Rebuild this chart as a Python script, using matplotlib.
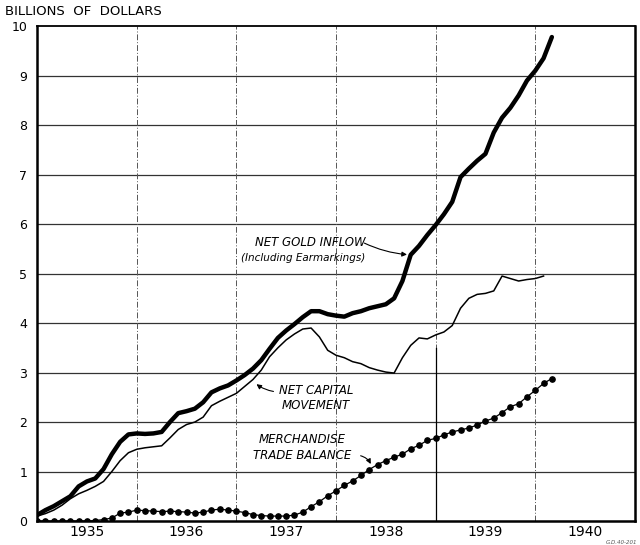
import numpy as np
import matplotlib
matplotlib.use("Agg")
from matplotlib import pyplot as plt

# monthly values, billions of dollars, starting January 1935
start_year = 1935
gold_inflow = [0.12, 0.22, 0.30, 0.40, 0.50, 0.70, 0.80, 0.86, 1.05, 1.35, 1.60, 1.75,
               1.77, 1.76, 1.77, 1.80, 2.00, 2.18, 2.22, 2.27, 2.40, 2.60, 2.68, 2.74,
               2.84, 2.95, 3.08, 3.25, 3.48, 3.70, 3.85, 3.98, 4.12, 4.24, 4.24, 4.18,
               4.15, 4.13, 4.20, 4.24, 4.30, 4.34, 4.38, 4.50, 4.85, 5.38, 5.56, 5.78,
               5.98, 6.20, 6.45, 6.95, 7.12, 7.28, 7.42, 7.85, 8.15, 8.35, 8.60, 8.90,
               9.10, 9.35, 9.78]
capital_movement = [0.10, 0.15, 0.22, 0.32, 0.45, 0.55, 0.62, 0.70, 0.80, 1.00, 1.22, 1.38,
                    1.45, 1.48, 1.50, 1.52, 1.68, 1.85, 1.95, 2.00, 2.10, 2.33, 2.42, 2.50,
                    2.58, 2.72, 2.86, 3.05, 3.32, 3.50, 3.66, 3.78, 3.88, 3.90, 3.72, 3.45,
                    3.35, 3.30, 3.22, 3.18, 3.10, 3.05, 3.01, 2.99, 3.30, 3.55, 3.70, 3.68,
                    3.76, 3.82, 3.95, 4.30, 4.50, 4.58, 4.60, 4.65, 4.95, 4.90, 4.85, 4.88,
                    4.90, 4.95]
trade_balance = [0.0, 0.0, 0.0, 0.0, 0.0, 0.0, 0.0, 0.01, 0.03, 0.06, 0.16, 0.18,
                 0.22, 0.21, 0.20, 0.19, 0.20, 0.19, 0.18, 0.16, 0.18, 0.22, 0.24, 0.22,
                 0.20, 0.17, 0.13, 0.11, 0.10, 0.10, 0.10, 0.12, 0.18, 0.29, 0.39, 0.51,
                 0.61, 0.72, 0.81, 0.92, 1.04, 1.14, 1.22, 1.29, 1.35, 1.46, 1.53, 1.63,
                 1.67, 1.74, 1.80, 1.84, 1.88, 1.94, 2.02, 2.08, 2.19, 2.31, 2.37, 2.51,
                 2.64, 2.78, 2.88]
year_labels = ['1935', '1936', '1937', '1938', '1939', '1940']
y_ticks = list(range(0, 11))


def months(series):
    return start_year + np.arange(len(series)) / 12.0


fig = plt.figure(figsize=(6.4, 5.45), dpi=100)
ax = fig.add_axes([0.058, 0.044, 0.934, 0.908])

# grid
for y in y_ticks[1:-1]:
    ax.axhline(y, color='#333333', linewidth=0.9, zorder=1)
for yr in range(1936, 1941):
    ax.axvline(yr, color='#555555', linewidth=0.7, linestyle=(0, (6, 2, 1, 2)), zorder=1)
ax.axvline(1939, ymin=0, ymax=0.35, color='black', linewidth=0.9, zorder=1)

ax.plot(months(gold_inflow), gold_inflow, color='black', linewidth=3.2,
        solid_capstyle='round', zorder=3)
ax.plot(months(capital_movement), capital_movement, color='black', linewidth=1.1, zorder=3)
ax.plot(months(trade_balance), trade_balance, color='black', linewidth=0.9,
        marker='o', markersize=3.8, zorder=3)

ax.set_xlim(1935, 1941)
ax.set_ylim(0, 10)
ax.set_yticks(y_ticks)
ax.set_yticklabels([str(v) for v in y_ticks], fontsize=9)
ax.set_xticks([1935.5 + i for i in range(len(year_labels))])
ax.set_xticklabels(year_labels, fontsize=10)
ax.tick_params(axis='both', length=0)
ax.tick_params(axis='y', pad=7)
ax.tick_params(axis='x', pad=3)

for side in ['left', 'bottom', 'right']:
    ax.spines[side].set_linewidth(1.8)
ax.spines['top'].set_linewidth(1.3)

fig.text(0.008, 0.967, 'BILLIONS  OF  DOLLARS', fontsize=9.5, ha='left', va='bottom')

# labels
ax.text(1937.74, 5.63, 'NET GOLD INFLOW', fontsize=8.5, style='italic', ha='center', va='center')
ax.text(1937.67, 5.32, '(Including Earmarkings)', fontsize=7.5, style='italic', ha='center', va='center')
ax.annotate('', xy=(1938.74, 5.38), xytext=(1938.26, 5.64),
            arrowprops=dict(arrowstyle='-|>', color='black', linewidth=0.8,
                            mutation_scale=7, connectionstyle='arc3,rad=0.1'))

ax.text(1937.43, 2.64, 'NET CAPITAL', fontsize=8.5, style='italic', ha='left', va='center')
ax.text(1937.45, 2.33, 'MOVEMENT', fontsize=8.5, style='italic', ha='left', va='center')
ax.annotate('', xy=(1937.18, 2.80), xytext=(1937.40, 2.61),
            arrowprops=dict(arrowstyle='-|>', color='black', linewidth=0.8,
                            mutation_scale=7, connectionstyle='arc3,rad=-0.15'))

ax.text(1937.66, 1.64, 'MERCHANDISE', fontsize=8.5, style='italic', ha='center', va='center')
ax.text(1937.66, 1.33, 'TRADE BALANCE', fontsize=8.5, style='italic', ha='center', va='center')
ax.annotate('', xy=(1938.36, 1.10), xytext=(1938.22, 1.33),
            arrowprops=dict(arrowstyle='-|>', color='black', linewidth=0.8,
                            mutation_scale=7, connectionstyle='arc3,rad=-0.3'))

fig.text(0.995, 0.0, 'G.D.40-201', fontsize=4, style='italic', color='#555555', ha='right', va='bottom')

plt.savefig('out.png', dpi=100)
plt.close()
